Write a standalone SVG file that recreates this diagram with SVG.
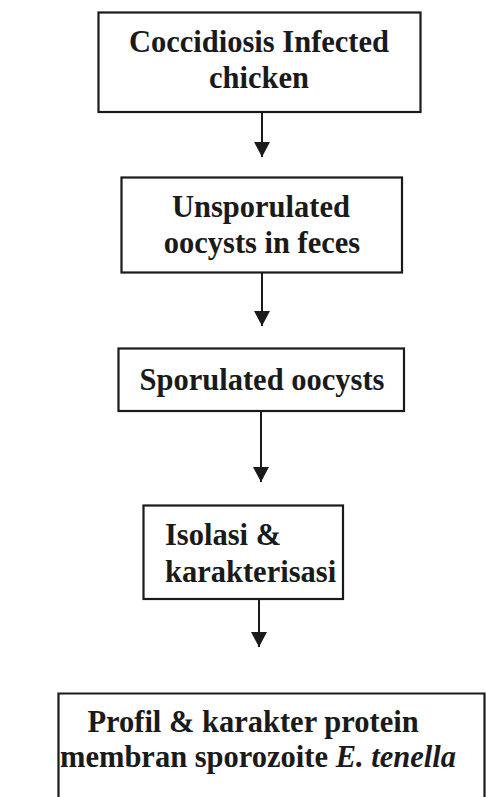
<svg xmlns="http://www.w3.org/2000/svg" width="486" height="797" viewBox="0 0 486 797">
<style>
.box{fill:#fff;stroke:#1a1a1a;stroke-width:2.2}
.t{font-family:"Liberation Serif","Times New Roman",serif;font-weight:bold;font-size:30.5px;fill:#1a1a1a}
.c{text-anchor:middle}
.line{stroke:#1a1a1a;stroke-width:2;fill:none}
</style>
<defs>
<marker id="ah" markerWidth="16" markerHeight="16" refX="15" refY="8" orient="auto" markerUnits="userSpaceOnUse">
<path d="M0,0 L15,8 L0,16 Z" fill="#1a1a1a"/>
</marker>
</defs>
<rect width="486" height="797" fill="#fff"/>
<g id="connectors">
<line class="line" x1="262" y1="112" x2="262" y2="157" marker-end="url(#ah)"/>
<line class="line" x1="262" y1="272" x2="262" y2="326" marker-end="url(#ah)"/>
<line class="line" x1="261" y1="411" x2="261" y2="482" marker-end="url(#ah)"/>
<line class="line" x1="259" y1="599" x2="259" y2="647" marker-end="url(#ah)"/>
</g>
<g id="n1">
<rect class="box" x="98.5" y="12.5" width="322" height="99.5"/>
<text class="t c" x="259" y="52">Coccidiosis Infected</text>
<text class="t c" x="259" y="88">chicken</text>
</g>
<g id="n2">
<rect class="box" x="121.5" y="177.5" width="280.5" height="95"/>
<text class="t c" x="261" y="217">Unsporulated</text>
<text class="t c" x="262" y="253">oocysts in feces</text>
</g>
<g id="n3">
<rect class="box" x="118.5" y="348.5" width="285.5" height="62.5"/>
<text class="t c" x="262" y="390">Sporulated oocysts</text>
</g>
<g id="n4">
<rect class="box" x="143.5" y="505.5" width="199.5" height="93.5"/>
<text class="t" x="165" y="545">Isolasi &amp;</text>
<text class="t" x="165" y="582">karakterisasi</text>
</g>
<g id="n5">
<path class="box" d="M58.5,800 L58.5,693.5 L484.5,693.5 L484.5,800"/>
<text class="t c" x="253" y="732">Profil &amp; karakter protein</text>
<text class="t c" x="258" y="767">membran sporozoite <tspan font-style="italic">E. tenella</tspan></text>
</g>
</svg>
